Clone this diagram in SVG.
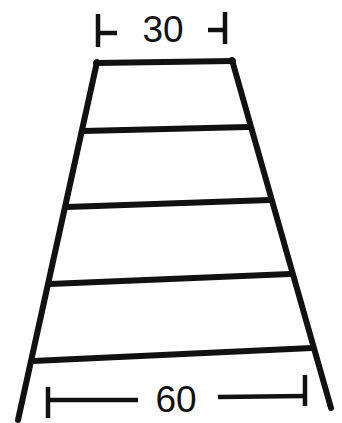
<svg xmlns="http://www.w3.org/2000/svg" width="342" height="423" viewBox="0 0 342 423">
<style>
.ln{stroke:#111;stroke-width:6;stroke-linecap:round;fill:none}
.dim{stroke:#111;stroke-width:4.5;stroke-linecap:butt;fill:none}
.lbl{font-family:"Liberation Sans",Arial,sans-serif;font-size:37px;fill:#111;text-anchor:middle}
</style>
<rect width="342" height="423" fill="#fff"/>
<g id="ladder">
<line class="ln" x1="97" y1="62" x2="18" y2="420"/>
<line class="ln" x1="232" y1="60" x2="331" y2="408"/>
<line class="ln" x1="96" y1="63" x2="233" y2="61"/>
<line class="ln" x1="83" y1="131" x2="248" y2="127"/>
<line class="ln" x1="67" y1="207" x2="270" y2="200"/>
<line class="ln" x1="50" y1="284" x2="290" y2="274"/>
<line class="ln" x1="33" y1="361" x2="312" y2="348"/>
</g>
<g id="dim-top">
<line class="dim" x1="98" y1="14" x2="98" y2="47"/>
<line class="dim" x1="98" y1="33" x2="117" y2="33"/>
<line class="dim" x1="225" y1="12" x2="225" y2="44"/>
<line class="dim" x1="208" y1="30" x2="225" y2="30"/>
<text class="lbl" x="163" y="42">30</text>
</g>
<g id="dim-bottom">
<line class="dim" x1="48" y1="387" x2="48" y2="418"/>
<line class="dim" x1="48" y1="400" x2="138" y2="400"/>
<line class="dim" x1="218" y1="397" x2="305" y2="396"/>
<line class="dim" x1="305" y1="375" x2="305" y2="406"/>
<text class="lbl" x="176" y="412">60</text>
</g>
</svg>
